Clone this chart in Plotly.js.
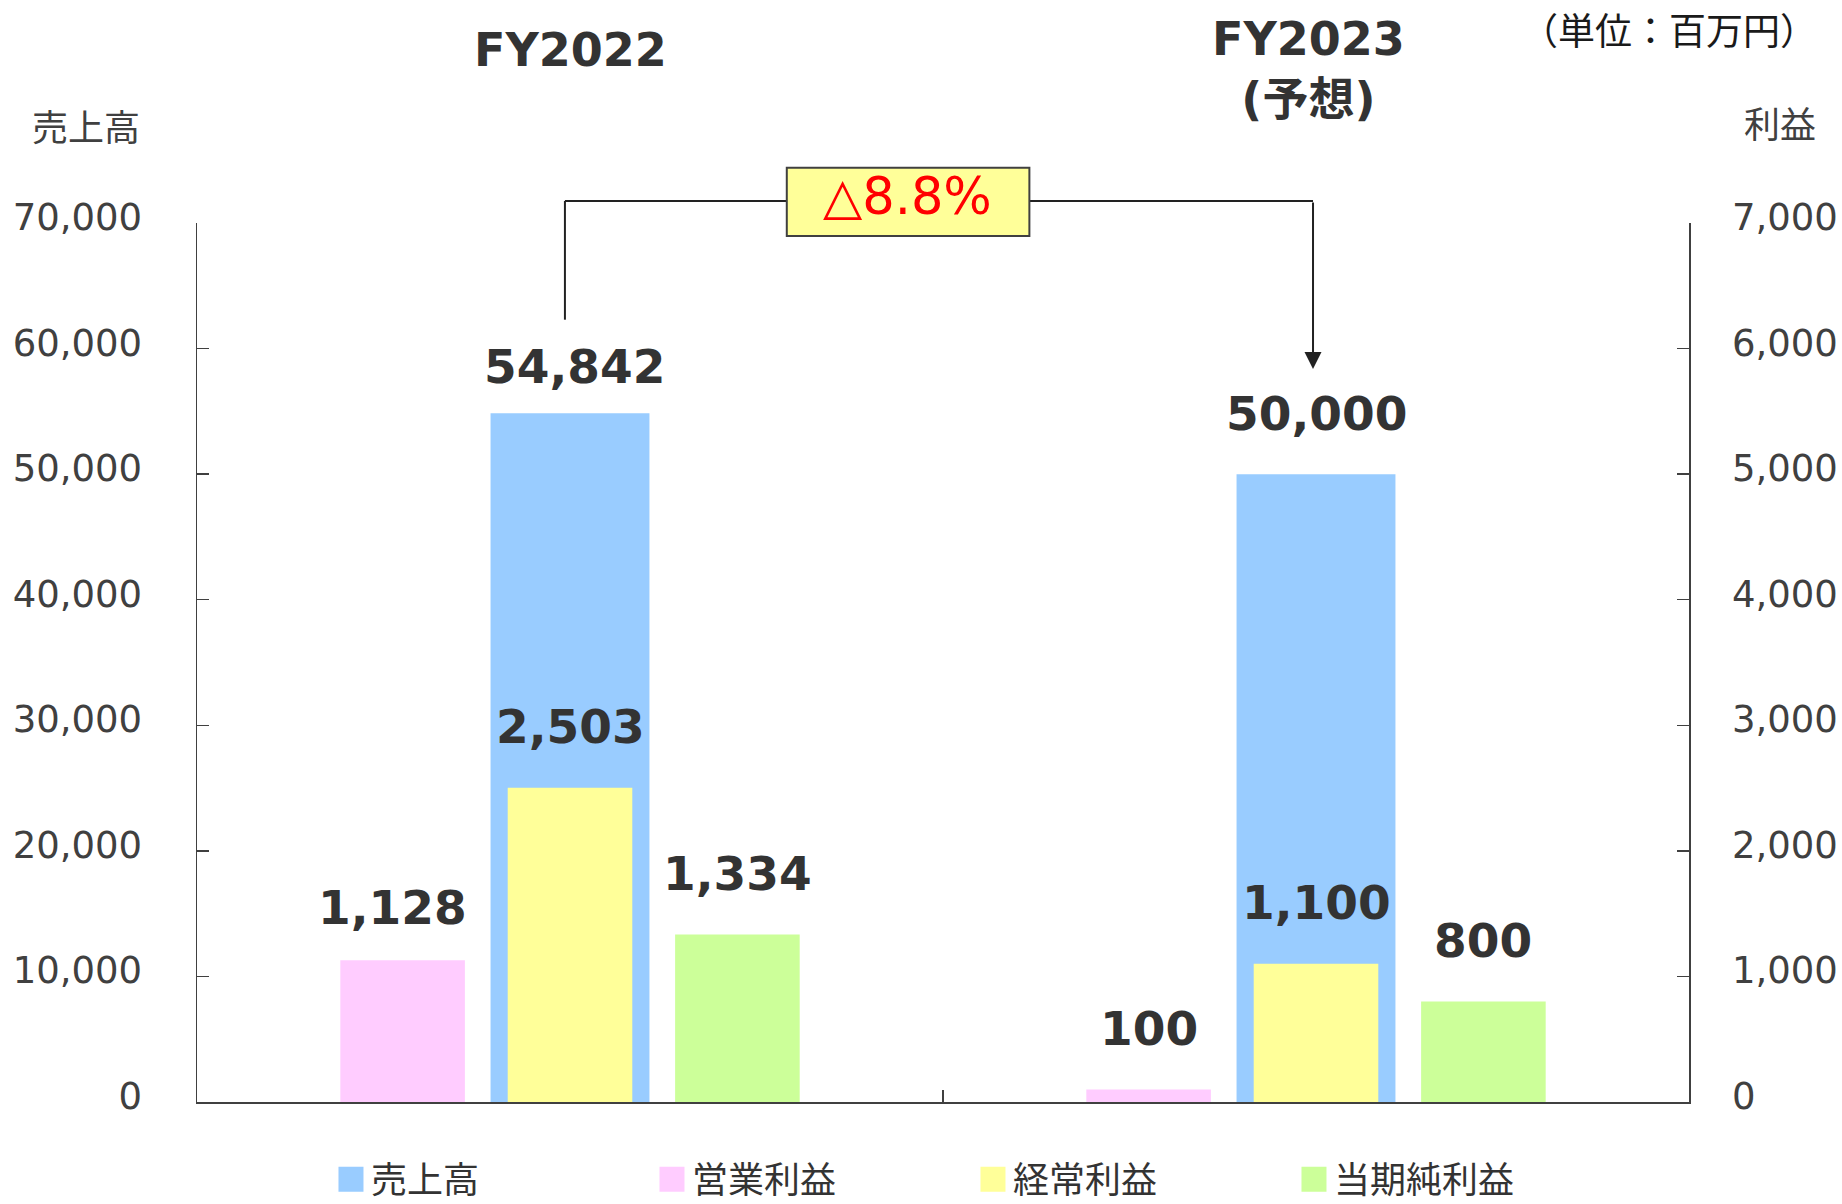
<!DOCTYPE html>
<html><head><meta charset="utf-8">
<script src="https://cdn.plot.ly/plotly-3.0.1.min.js"></script>
<style>html,body{margin:0;padding:0;background:#fff;} #chart{width:1842px;height:1204px;}</style>
</head><body><div id="chart"></div>
<script>
// ---- data ----
const categories = ['FY2022', 'FY2023(予想)'];
const categoryLabels = ['FY2022', 'FY2023<br>(予想)'];
const seriesNames = ['売上高', '営業利益', '経常利益', '当期純利益'];
const sales = [54842, 50000];
const operatingProfit = [1128, 100];
const ordinaryProfit = [2503, 1100];
const netProfit = [1334, 800];
const leftAxisTitle = '売上高';
const rightAxisTitle = '利益';
const unitLabel = '（単位：百万円）';

// ---- style ----
const colors = ['#99CCFF', '#FFCCFF', '#FFFF99', '#CCFF99'];
const textColor = '#333333';
const axisColor = '#404040';
const latin = 'DejaVu Sans, Noto Sans CJK JP, sans-serif';
const cjk = 'Noto Sans CJK JP, sans-serif';
const salesWidth = 0.213;
const profitWidth = 0.167;
const profitCenters = [-0.2244, 0, 0.2244];
const defaultLift = 61;
const labelFont = {family: latin, size: 47, color: textColor, weight: 'bold'};

const profitSeries = [operatingProfit, ordinaryProfit, netProfit];

const traces = [{
  type: 'bar', name: seriesNames[0], x: categories, y: sales,
  width: salesWidth, offset: -salesWidth / 2,
  marker: {color: colors[0], line: {width: 0}}, yaxis: 'y', hoverinfo: 'skip'
}];
profitSeries.forEach((vals, i) => {
  traces.push({
    type: 'bar', name: seriesNames[i + 1], x: categories, y: vals,
    width: profitWidth, offset: profitCenters[i] - profitWidth / 2,
    marker: {color: colors[i + 1], line: {width: 0}}, yaxis: 'y2', hoverinfo: 'skip'
  });
});

const fmt = v => v.toLocaleString('en-US');
const annotations = [];
// value labels
sales.forEach((v, ci) => {
  annotations.push({xref: 'x', yref: 'y', x: ci, y: v, text: fmt(v), showarrow: false,
    yanchor: 'middle', yshift: (ci === 0 ? 47 : defaultLift), xshift: (ci === 0 ? 4 : 0), font: labelFont});
});
profitSeries.forEach((vals, si) => {
  vals.forEach((v, ci) => {
    const first = (si === 0 && ci === 0);
    annotations.push({xref: 'x', yref: 'y2', x: ci + profitCenters[si], y: v, text: fmt(v), showarrow: false,
      yanchor: 'middle', yshift: first ? 53 : defaultLift, xshift: first ? -10 : 0, font: labelFont});
  });
});
// category labels at top
annotations.push({xref: 'x', yref: 'paper', x: categories[0], y: 1.197, text: categoryLabels[0], showarrow: false,
  yanchor: 'middle', font: {family: latin, size: 46, color: textColor, weight: 'bold'}});
annotations.push({xref: 'x', yref: 'paper', x: categories[1], y: 1.175, text: categoryLabels[1], showarrow: false,
  yanchor: 'middle', xshift: -8, font: {family: latin, size: 46, color: textColor, weight: 'bold'}});
// axis titles and unit
annotations.push({xref: 'paper', yref: 'paper', x: -0.0369, y: 1.112, text: leftAxisTitle, showarrow: false,
  xanchor: 'right', yanchor: 'middle', font: {family: cjk, size: 36, color: axisColor}});
annotations.push({xref: 'paper', yref: 'paper', x: 1.061, y: 1.115, text: rightAxisTitle, showarrow: false,
  xanchor: 'center', yanchor: 'middle', font: {family: cjk, size: 36, color: axisColor}});
annotations.push({xref: 'paper', yref: 'paper', x: 0.9866, y: 1.2207, text: unitLabel, showarrow: false,
  xanchor: 'center', yanchor: 'middle', font: {family: cjk, size: 37, color: '#1a1a1a'}});
// change annotation
const pct = Math.abs((sales[1] - sales[0]) / sales[0] * 100).toFixed(1);
const changeText = (sales[1] < sales[0] ? '△' : '') + pct + '%';
annotations.push({xref: 'paper', yref: 'paper', x: 0.4765, y: 1.030, text: changeText, showarrow: false,
  xanchor: 'center', yanchor: 'middle', font: {family: latin, size: 51, color: '#FF0000'}});
// arrow down to FY2023
annotations.push({xref: 'paper', yref: 'paper', x: 0.748, y: 0.834, ax: 0, ay: -168, axref: 'pixel', ayref: 'pixel',
  text: '', showarrow: true, arrowhead: 2, arrowsize: 1.7, arrowwidth: 2, arrowcolor: '#222222', standoff: 0});

const lineStyle = {color: '#222222', width: 2};
const shapes = [
  {type: 'line', xref: 'paper', yref: 'paper', x0: 0.2466, x1: 0.2466, y0: 0.890, y1: 1.025, line: lineStyle},
  {type: 'line', xref: 'paper', yref: 'paper', x0: 0.2466, x1: 0.3953, y0: 1.025, y1: 1.025, line: lineStyle},
  {type: 'line', xref: 'paper', yref: 'paper', x0: 0.5579, x1: 0.748, y0: 1.025, y1: 1.025, line: lineStyle},
  {type: 'rect', xref: 'paper', yref: 'paper', x0: 0.3953, x1: 0.5579, y0: 0.9852, y1: 1.0629,
    fillcolor: '#FFFF99', line: {color: axisColor, width: 2}}
];

const axisCommon = {
  showline: true, linecolor: axisColor, linewidth: 1.5,
  ticks: 'inside', ticklen: 12, tickcolor: axisColor, tickwidth: 1.5,
  showgrid: false, zeroline: false, fixedrange: true,
  tickformat: ',', tickfont: {family: latin, size: 37, color: axisColor}
};

const layout = {
  width: 1842, height: 1204,
  margin: {l: 197, r: 153, t: 223, b: 102, autoexpand: false},
  paper_bgcolor: '#ffffff', plot_bgcolor: '#ffffff',
  barmode: 'overlay',
  xaxis: {type: 'category', range: [-0.5, 1.5], showline: true, linecolor: axisColor, linewidth: 1.5,
    ticks: 'inside', tickson: 'boundaries', ticklen: 12, tickcolor: axisColor, tickwidth: 1.5,
    showticklabels: false, showgrid: false, zeroline: false, fixedrange: true},
  yaxis: Object.assign({}, axisCommon, {range: [0, 70000], dtick: 10000, ticklabelstandoff: 46, ticklabelshift: -6}),
  yaxis2: Object.assign({}, axisCommon, {range: [0, 7000], dtick: 1000, overlaying: 'y', side: 'right',
    ticklabelstandoff: 34, ticklabelshift: -6}),
  showlegend: true,
  legend: {orientation: 'h', x: 0.0898, xanchor: 'left', y: -0.088, yanchor: 'middle',
    font: {family: cjk, size: 36, color: textColor}, entrywidth: 276, entrywidthmode: 'pixels',
    bgcolor: 'rgba(0,0,0,0)', traceorder: 'normal'},
  annotations: annotations,
  shapes: shapes
};

Plotly.newPlot('chart', traces, layout, {displayModeBar: false, staticPlot: true}).then(gd => {
  gd.querySelectorAll('.legendpoints path').forEach(p => {
    p.setAttribute('d', 'M12.5,12.5H-12.5V-12.5H12.5Z');
  });
});
</script>
</body></html>
